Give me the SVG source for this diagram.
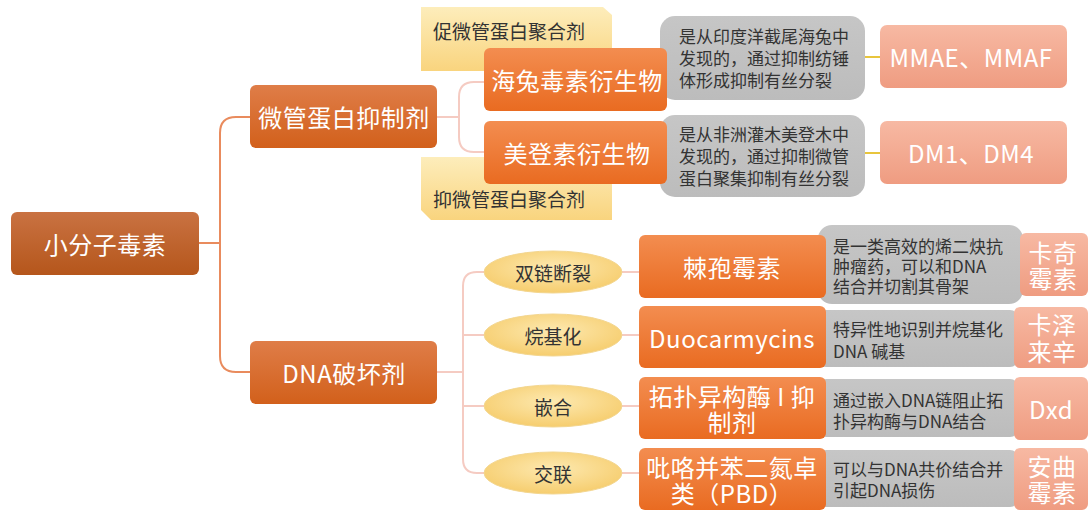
<svg xmlns="http://www.w3.org/2000/svg" width="1092" height="512" viewBox="0 0 1092 512">
  <defs>
    <linearGradient id="gRoot" x1="0" y1="0" x2="0" y2="1">
      <stop offset="0" stop-color="#c97242"/>
      <stop offset="1" stop-color="#b5561b"/>
    </linearGradient>
    <linearGradient id="gL1" x1="0" y1="0" x2="0" y2="1">
      <stop offset="0" stop-color="#df7d48"/>
      <stop offset="1" stop-color="#d2601b"/>
    </linearGradient>
    <linearGradient id="gL2" x1="0" y1="0" x2="0" y2="1">
      <stop offset="0" stop-color="#f38d50"/>
      <stop offset="1" stop-color="#e96b21"/>
    </linearGradient>
    <linearGradient id="gSal" x1="0" y1="0" x2="0" y2="1">
      <stop offset="0" stop-color="#f7b9a3"/>
      <stop offset="1" stop-color="#ef9c81"/>
    </linearGradient>
    <linearGradient id="gYel" x1="0" y1="0" x2="0" y2="1">
      <stop offset="0" stop-color="#fdedbb"/>
      <stop offset="1" stop-color="#f9d47e"/>
    </linearGradient>
    <radialGradient id="gEll" cx="0.5" cy="0.4" r="0.6">
      <stop offset="0" stop-color="#fde9b0"/>
      <stop offset="1" stop-color="#f6cd6e"/>
    </radialGradient>
    <linearGradient id="gGray" x1="0" y1="0" x2="0" y2="1">
      <stop offset="0" stop-color="#c6c6c6"/>
      <stop offset="1" stop-color="#bcbcbc"/>
    </linearGradient>
  </defs>
  <style>
    text { font-family: "Noto Sans CJK SC", "Noto Sans", sans-serif; dominant-baseline: central; }
    .w { fill: #ffffff; text-anchor: middle; }
    .big { font-size: 24px; letter-spacing: 0.5px; }
    .d { fill: #333333; font-size: 17px; }
    .y { fill: #333333; font-size: 19px; }
    .yc { fill: #333333; font-size: 19px; text-anchor: middle; }
    .root { fill: url(#gRoot); }
    .l1 { fill: url(#gL1); }
    .l2 { fill: url(#gL2); }
    .sal { fill: url(#gSal); }
    .gray { fill: url(#gGray); }
    .yel { fill: url(#gYel); }
    .ell { fill: url(#gEll); stroke: #f3d690; stroke-width: 1; }
    .c-main { fill: none; stroke: #e98b5d; stroke-width: 2; }
    .c-sub { fill: none; stroke: #f5cbc2; stroke-width: 2; }
    .c-yel { fill: none; stroke: #e8c53c; stroke-width: 2; }
  </style>

  <!-- connectors -->
  <g id="connectors">
    <path class="c-main" d="M199,243 H220"/>
    <path class="c-main" d="M250,117 H236 Q220,117 220,133 V356 Q220,372 236,372 H250"/>
    <path class="c-sub" d="M437,117 H459"/>
    <path class="c-sub" d="M484,82 H474 Q459,82 459,97 V137 Q459,152 474,152 H484"/>
    <path class="c-yel" d="M864,57 H882"/>
    <path class="c-yel" d="M864,153 H882"/>
    <path class="c-sub" d="M437,372 H463"/>
    <path class="c-sub" d="M484,272 H477 Q463,272 463,286 V459 Q463,473 477,473 H484"/>
    <path class="c-sub" d="M463,335 H484"/>
    <path class="c-sub" d="M463,406 H484"/>
    <path class="c-sub" d="M622,272 H640"/>
    <path class="c-sub" d="M622,335 H640"/>
    <path class="c-sub" d="M622,406 H640"/>
    <path class="c-sub" d="M622,473 H640"/>
  </g>

  <!-- root -->
  <g id="n-root">
    <rect class="root" x="11" y="212" width="188" height="63" rx="6"/>
    <text class="w big" x="105" y="243">小分子毒素</text>
  </g>

  <!-- first level -->
  <g id="n-tubulin">
    <rect class="l1" x="250" y="85" width="187" height="63" rx="6"/>
    <text class="w big" x="344" y="116">微管蛋白抑制剂</text>
  </g>
  <g id="n-dna">
    <rect class="l1" x="250" y="341" width="187" height="63" rx="6"/>
    <text class="w big" x="344" y="372">DNA破坏剂</text>
  </g>

  <!-- callouts -->
  <g id="n-promote">
    <path class="yel" d="M421,7 H603 L612,15 V71 H421 Z"/>
    <text class="y" x="433" y="30">促微管蛋白聚合剂</text>
  </g>
  <g id="n-inhibit">
    <path class="yel" d="M421,157 H612 V220 H431 L421,210 Z"/>
    <text class="y" x="433" y="198">抑微管蛋白聚合剂</text>
  </g>

  <!-- tubulin descriptions -->
  <g id="n-auri-desc">
    <rect class="gray" x="660" y="16" width="205" height="84" rx="15"/>
    <text class="d"><tspan x="679" y="35">是从印度洋截尾海兔中</tspan><tspan x="679" y="57">发现的，通过抑制纺锤</tspan><tspan x="679" y="79">体形成抑制有丝分裂</tspan></text>
  </g>
  <g id="n-may-desc">
    <rect class="gray" x="660" y="115" width="205" height="82" rx="15"/>
    <text class="d"><tspan x="679" y="133">是从非洲灌木美登木中</tspan><tspan x="679" y="155">发现的，通过抑制微管</tspan><tspan x="679" y="177">蛋白聚集抑制有丝分裂</tspan></text>
  </g>

  <g id="n-auristatin">
    <rect class="l2" x="484" y="48" width="183" height="63" rx="6"/>
    <text class="w big" x="577" y="79" letter-spacing="1">海兔毒素衍生物</text>
  </g>
  <g id="n-maytansine">
    <rect class="l2" x="484" y="121" width="183" height="63" rx="6"/>
    <text class="w big" x="577" y="152" letter-spacing="1.5">美登素衍生物</text>
  </g>

  <g id="n-mmae">
    <rect class="sal" x="880" y="25" width="187" height="63" rx="7"/>
    <text class="w big" x="971" y="56">MMAE、MMAF</text>
  </g>
  <g id="n-dm">
    <rect class="sal" x="880" y="121" width="187" height="63" rx="7"/>
    <text class="w big" x="971" y="152">DM1、DM4</text>
  </g>

  <!-- mechanism ellipses -->
  <g id="n-dsb">
    <ellipse class="ell" cx="553" cy="272" rx="69" ry="21"/>
    <text class="yc" x="553" y="272">双链断裂</text>
  </g>
  <g id="n-alkyl">
    <ellipse class="ell" cx="553" cy="335" rx="69" ry="21"/>
    <text class="yc" x="553" y="335">烷基化</text>
  </g>
  <g id="n-intercal">
    <ellipse class="ell" cx="553" cy="406" rx="69" ry="21"/>
    <text class="yc" x="553" y="406">嵌合</text>
  </g>
  <g id="n-crosslink">
    <ellipse class="ell" cx="553" cy="473" rx="69" ry="21"/>
    <text class="yc" x="553" y="473">交联</text>
  </g>

  <!-- DNA damaging agent descriptions -->
  <g id="n-calich-desc">
    <rect class="gray" x="818" y="225" width="205" height="79" rx="14"/>
    <text class="d"><tspan x="833" y="245">是一类高效的烯二炔抗</tspan><tspan x="833" y="265">肿瘤药，可以和DNA</tspan><tspan x="833" y="285">结合并切割其骨架</tspan></text>
  </g>
  <g id="n-duo-desc">
    <rect class="gray" x="818" y="310" width="200" height="57" rx="8"/>
    <text class="d"><tspan x="833" y="328">特异性地识别并烷基化</tspan><tspan x="833" y="350">DNA 碱基</tspan></text>
  </g>
  <g id="n-topo-desc">
    <rect class="gray" x="818" y="379" width="200" height="58" rx="8"/>
    <text class="d"><tspan x="833" y="399">通过嵌入DNA链阻止拓</tspan><tspan x="833" y="420">扑异构酶与DNA结合</tspan></text>
  </g>
  <g id="n-pbd-desc">
    <rect class="gray" x="818" y="450" width="200" height="57" rx="8"/>
    <text class="d"><tspan x="833" y="468">可以与DNA共价结合并</tspan><tspan x="833" y="489">引起DNA损伤</tspan></text>
  </g>

  <!-- DNA damaging agent classes -->
  <g id="n-calich">
    <rect class="l2" x="639" y="235" width="187" height="63" rx="6"/>
    <text class="w big" x="732" y="266">棘孢霉素</text>
  </g>
  <g id="n-duo">
    <rect class="l2" x="639" y="306" width="187" height="62" rx="6"/>
    <text class="w big" x="732" y="337">Duocarmycins</text>
  </g>
  <g id="n-topo">
    <rect class="l2" x="639" y="377" width="187" height="62" rx="6"/>
    <text class="w big"><tspan x="732" y="395">拓扑异构酶 I 抑</tspan><tspan x="732" y="421">制剂</tspan></text>
  </g>
  <g id="n-pbd">
    <rect class="l2" x="639" y="448" width="187" height="62" rx="6"/>
    <text class="w big"><tspan x="732" y="466">吡咯并苯二氮卓</tspan><tspan x="732" y="492">类（PBD）</tspan></text>
  </g>

  <!-- payloads -->
  <g id="n-calicheamicin">
    <rect class="sal" x="1020" y="233" width="68" height="63" rx="6"/>
    <text class="w big"><tspan x="1053" y="251">卡奇</tspan><tspan x="1053" y="277">霉素</tspan></text>
  </g>
  <g id="n-carzelesin">
    <rect class="sal" x="1014" y="307" width="74" height="61" rx="6"/>
    <text class="w big"><tspan x="1052" y="323">卡泽</tspan><tspan x="1052" y="350">来辛</tspan></text>
  </g>
  <g id="n-dxd">
    <rect class="sal" x="1014" y="377" width="74" height="63" rx="6"/>
    <text class="w big" x="1051" y="408">Dxd</text>
  </g>
  <g id="n-anthramycin">
    <rect class="sal" x="1014" y="448" width="74" height="62" rx="6"/>
    <text class="w big"><tspan x="1052" y="465">安曲</tspan><tspan x="1052" y="491">霉素</tspan></text>
  </g>
</svg>
